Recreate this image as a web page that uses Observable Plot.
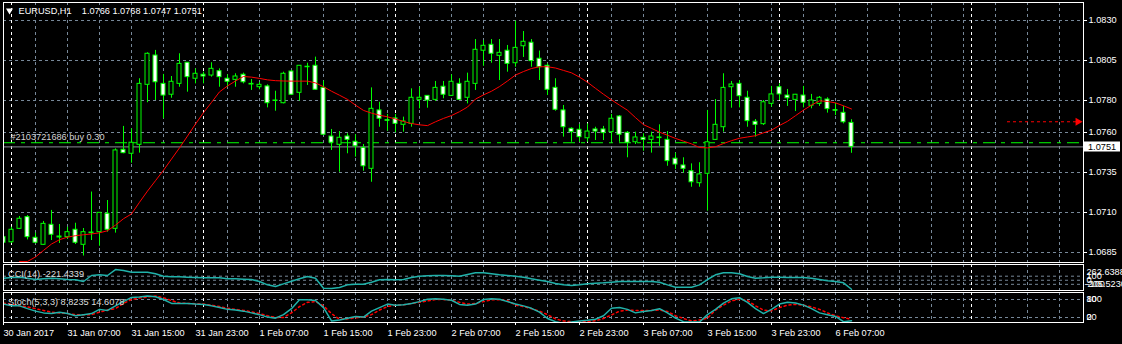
<!DOCTYPE html>
<html><head><meta charset="utf-8">
<script src="https://cdn.jsdelivr.net/npm/d3@7"></script>
<script src="https://cdn.jsdelivr.net/npm/@observablehq/plot@0.6"></script>
<style>
html,body{margin:0;padding:0;background:#000;}
#chart{position:relative;width:1122px;height:344px;background:#000;overflow:hidden;}
#chart svg{position:absolute;left:0;}
</style></head><body><div id="chart"></div>
<script>
// ---------- data ----------
const symbol = "EURUSD,H1";
const lastBar = [1.0766, 1.0768, 1.0747, 1.0751];
const opens = [1.06946,1.06914,1.06998,1.07071,1.06942,1.06898,1.07023,1.06950,1.06946,1.06992,1.06898,1.06971,1.06977,1.07092,1.06998,1.07492,1.07467,1.07523,1.07898,1.08081,1.07904,1.07836,1.07904,1.08036,1.07936,1.07961,1.07956,1.07983,1.07936,1.07929,1.07961,1.07904,1.07883,1.07888,1.07800,1.07783,1.07981,1.07848,1.08011,1.08017,1.07879,1.07575,1.07523,1.07575,1.07542,1.07504,1.07373,1.07738,1.07677,1.07688,1.07648,1.07654,1.07804,1.07829,1.07804,1.07886,1.07829,1.07904,1.07817,1.07904,1.08111,1.08148,1.08079,1.08111,1.08033,1.08139,1.08161,1.08061,1.08017,1.07879,1.07738,1.07623,1.07617,1.07564,1.07619,1.07619,1.07602,1.07700,1.07598,1.07539,1.07567,1.07554,1.07569,1.07554,1.07436,1.07394,1.07358,1.07283,1.07342,1.07554,1.07633,1.07883,1.07904,1.07817,1.07667,1.07652,1.07779,1.07883,1.07831,1.07804,1.07831,1.07767,1.07779,1.07806,1.07740,1.07723,1.07660];
const highs = [1.06981,1.07008,1.07075,1.07081,1.06971,1.07044,1.07113,1.07025,1.07008,1.07033,1.07000,1.07228,1.07100,1.07175,1.07498,1.07638,1.07623,1.07936,1.08098,1.08113,1.07963,1.07950,1.08092,1.08036,1.07998,1.07977,1.08036,1.07998,1.07961,1.07967,1.07971,1.07931,1.07913,1.07898,1.07858,1.07977,1.07988,1.08017,1.08033,1.08071,1.07921,1.07619,1.07606,1.07592,1.07586,1.07525,1.07879,1.07789,1.07713,1.07713,1.07696,1.07873,1.07883,1.07831,1.07919,1.07919,1.07961,1.07936,1.07971,1.08181,1.08175,1.08181,1.08181,1.08144,1.08296,1.08231,1.08181,1.08109,1.08029,1.07936,1.07769,1.07629,1.07650,1.07654,1.07633,1.07638,1.07713,1.07706,1.07606,1.07602,1.07592,1.07602,1.07648,1.07606,1.07471,1.07442,1.07404,1.07411,1.07738,1.07806,1.07967,1.07919,1.07925,1.07858,1.07681,1.07800,1.07888,1.07904,1.07869,1.07838,1.07888,1.07838,1.07825,1.07817,1.07783,1.07764,1.07680];
const lows = [1.06904,1.06906,1.06994,1.06929,1.06904,1.06894,1.06925,1.06906,1.06933,1.06900,1.06828,1.06925,1.06889,1.06977,1.06971,1.07467,1.07408,1.07471,1.07786,1.07800,1.07686,1.07814,1.07883,1.07852,1.07904,1.07904,1.07946,1.07883,1.07883,1.07883,1.07904,1.07863,1.07867,1.07754,1.07733,1.07779,1.07831,1.07796,1.07894,1.07863,1.07581,1.07488,1.07352,1.07467,1.07446,1.07358,1.07289,1.07633,1.07608,1.07598,1.07602,1.07633,1.07748,1.07752,1.07794,1.07811,1.07825,1.07800,1.07779,1.07863,1.08014,1.08033,1.07925,1.07977,1.08008,1.08069,1.08008,1.07925,1.07831,1.07733,1.07571,1.07539,1.07539,1.07539,1.07550,1.07550,1.07539,1.07539,1.07442,1.07525,1.07483,1.07471,1.07513,1.07389,1.07369,1.07346,1.07258,1.07258,1.07108,1.07550,1.07602,1.07752,1.07754,1.07633,1.07571,1.07644,1.07758,1.07800,1.07763,1.07731,1.07754,1.07748,1.07763,1.07721,1.07706,1.07654,1.07470];
const closes = [1.06911,1.06992,1.07061,1.06946,1.06911,1.07029,1.06961,1.06944,1.06977,1.06911,1.06977,1.06975,1.07098,1.06992,1.07488,1.07471,1.07536,1.07904,1.08092,1.07914,1.07831,1.07917,1.08029,1.07946,1.07967,1.07950,1.07998,1.07946,1.07917,1.07950,1.07914,1.07900,1.07898,1.07783,1.07797,1.07967,1.07836,1.08017,1.08008,1.07867,1.07586,1.07536,1.07567,1.07554,1.07514,1.07389,1.07748,1.07686,1.07673,1.07654,1.07669,1.07817,1.07817,1.07800,1.07879,1.07836,1.07917,1.07804,1.07917,1.08117,1.08142,1.08092,1.08098,1.08029,1.08129,1.08167,1.08046,1.08008,1.07867,1.07742,1.07633,1.07602,1.07571,1.07606,1.07606,1.07596,1.07686,1.07586,1.07536,1.07569,1.07554,1.07575,1.07565,1.07421,1.07400,1.07373,1.07289,1.07338,1.07539,1.07648,1.07879,1.07900,1.07827,1.07671,1.07648,1.07789,1.07838,1.07838,1.07814,1.07836,1.07786,1.07800,1.07817,1.07746,1.07736,1.07664,1.07510];
const movingAverage = [null,null,1.06794,1.06794,1.06822,1.06863,1.06903,1.06930,1.06946,1.06955,1.06961,1.06966,1.06973,1.06986,1.07021,1.07061,1.07091,1.07164,1.07234,1.07299,1.07364,1.07434,1.07504,1.07578,1.07653,1.07724,1.07788,1.07854,1.07891,1.07922,1.07950,1.07946,1.07938,1.07929,1.07924,1.07922,1.07921,1.07921,1.07921,1.07910,1.07886,1.07858,1.07833,1.07807,1.07771,1.07738,1.07721,1.07708,1.07698,1.07684,1.07669,1.07656,1.07648,1.07643,1.07667,1.07688,1.07706,1.07730,1.07759,1.07809,1.07835,1.07858,1.07887,1.07922,1.07959,1.07981,1.08000,1.08011,1.08011,1.08003,1.07988,1.07973,1.07946,1.07914,1.07876,1.07839,1.07804,1.07771,1.07739,1.07693,1.07649,1.07626,1.07602,1.07583,1.07563,1.07546,1.07529,1.07506,1.07504,1.07511,1.07531,1.07549,1.07564,1.07572,1.07580,1.07598,1.07615,1.07644,1.07670,1.07705,1.07740,1.07771,1.07798,1.07794,1.07785,1.07767,1.07747];
const cciValues = [51.5,67.9,76.2,51.5,18.5,35,51.5,35,18.5,10.3,-30.9,117.3,133.8,117.3,262.6,240,199.6,199.6,199.6,158.5,100.9,84.4,84.4,76.2,67.9,59.7,59.7,59.7,35,35,26.8,18.5,-30.9,-113.2,-154.4,-88.5,-22.6,35,92.6,51.5,-195.5,-205.5,-179,-113.2,-96.7,-96.7,-47.3,10.3,18.5,10.3,18.5,67.9,100.9,109.1,117.3,117.3,109.1,100.9,142.1,183.2,183.2,158.5,133.8,117.3,100.9,76.2,35,2.1,-30.9,-80.3,-113.2,-129.7,-113.2,-88.5,-72,-63.8,-47.3,-30.9,-30.9,-30.9,-30.9,-30.9,-47.3,-113.2,-170.8,-170.8,-170.8,-113.2,18.5,133.8,183.2,183.2,158.5,92.6,51.5,59.7,76.2,76.2,67.9,67.9,67.9,51.5,18.5,-14.4,-30.9,-63.8,-221.4];
const stochMain = [64.7,58.8,58.8,49.5,41.2,35.4,33,37.7,33,26,29.5,33,47.1,43.6,58.8,72.9,87,88.2,91.7,89.4,80,67,67,67,64.7,63.5,58.8,53,47.1,44.8,41.2,35.4,29.5,21.3,17.8,29.5,49.5,78.8,78.8,76.5,53,8.4,11.9,17.8,23.6,21.3,41.2,53,64.7,61.2,62.4,67,72.9,81.1,82.3,81.1,77.6,63.5,61.2,64.7,80,82.3,81.1,72.9,64.7,58.8,50.6,37.7,16.6,6.1,0.2,4.9,8.4,10.7,14.2,26,50.6,53,47.1,35.4,40.1,43.6,49.5,35.4,17.8,6.1,4.9,4.9,29.5,47.1,68.2,82.3,85.8,70.6,49.5,33,47.1,64.7,70.6,68.2,61.2,49.5,35.4,29.5,23.6,6.1,8.8];
const stochSignal = [68.2,63.5,58.8,55.3,49.5,43.6,37.7,35.4,33,29.5,29.5,29.5,37.7,44.8,49.5,67,80,84.7,88.2,91.7,85.8,76.5,68.2,67,65.9,64.7,61.2,56.5,50.6,47.1,43.6,38.9,33,26,20.1,20.1,35.4,56.5,70.6,72.9,58.8,33,14.2,15.4,19,21.3,29.5,44.8,56.5,61.2,62.4,67,70.6,75.3,80,80,77.6,70.6,64.7,67,72.9,78.8,78.8,76.5,61.2,56.5,49.5,41.2,29.5,15.4,8.4,6.1,6.1,6.1,9.6,16.6,28.3,41.2,44.8,43.6,43.6,43.6,44.8,40.1,26,16.6,8.4,11.9,17.8,44.8,61.2,75.3,81.1,76.5,58.8,44.8,42.4,53,61.2,63.5,61.2,55.3,47.1,35.4,26,19,14.6];

const priceTicks = [1.0830, 1.0805, 1.0780, 1.0760, 1.0735, 1.0710, 1.0685];
const priceRange = [1.067875, 1.084125];
const visibleBars = 135;
const timeTickBars = [0,8,16,24,32,40,48,56,64,72,80,88,96,104];
const timeTickLabels = ["30 Jan 2017","31 Jan 07:00","31 Jan 15:00","31 Jan 23:00","1 Feb 07:00","1 Feb 15:00","1 Feb 23:00","2 Feb 07:00","2 Feb 15:00","2 Feb 23:00","3 Feb 07:00","3 Feb 15:00","3 Feb 23:00","6 Feb 07:00"];
const daySeparatorBars = [1,25,49,73,97,121];
const orderLevel = [{price: 1.07536, label: "#2103721686 buy 0.30"}];
const bidPrice = 1.0751;
const arrowLevel = [{price: 1.07667, from: 125.5, to: 134.3}];
const cciLabel = "CCI(14) -221.4339";
const cciMax = 262.6388, cciMin = -205.523;
const cciLevels = [100, 0, -100];
const stochLabel = "Stoch(5,3,3) 8.8235 14.6078";
const stochLevels = [80, 20];

// ---------- styling ----------
const FONT = "'Liberation Sans', Arial, Helvetica, sans-serif";
const FS = "9.2px";
const LIME = "#00ff00";
const GRID = "#778899";
const TEAL = "#20b2aa";
const xDomain = [0, visibleBars];
const gridBars = d3.range(0, visibleBars, 4);
const style = {background: "transparent", color: "white", fontFamily: FONT, fontSize: FS};
const root = document.getElementById("chart");

const bars = opens.map((o, i) => ({i, o, h: highs[i], l: lows[i], c: closes[i]}));
const maData = movingAverage.map((v, i) => ({i, v})).filter(d => d.v != null);
const verticalGrid = () => [
  Plot.gridX(gridBars, {stroke: GRID, strokeOpacity: 1, strokeDasharray: "3,3"}),
  Plot.gridX(daySeparatorBars, {stroke: "#ffffff", strokeOpacity: 1, strokeDasharray: "3,3"})
];

// ---------- main pane ----------
const main = Plot.plot({
  width: 1122, height: 263, marginLeft: 3, marginRight: 39, marginTop: 2, marginBottom: 1,
  style,
  x: {domain: xDomain, axis: null},
  y: {domain: priceRange, axis: null},
  marks: [
    Plot.gridY(priceTicks, {stroke: GRID, strokeOpacity: 1, strokeDasharray: "3,3"}),
    ...verticalGrid(),
    Plot.ruleY([bidPrice], {stroke: "#8c8f99"}),
    Plot.ruleY(orderLevel, {y: "price", stroke: LIME, strokeDasharray: "12,6,4,6"}),
    Plot.ruleX(bars, {x: "i", y1: "l", y2: "h", stroke: LIME, clip: true}),
    Plot.rect(bars.filter(d => d.c < d.o), {x1: d => d.i - 0.25, x2: d => d.i + 0.25, y1: "o", y2: "c", fill: "white", stroke: LIME, clip: true}),
    Plot.rect(bars.filter(d => d.c >= d.o), {x1: d => d.i - 0.25, x2: d => d.i + 0.25, y1: "o", y2: "c", fill: "black", stroke: LIME, clip: true}),
    Plot.line(maData, {x: "i", y: "v", stroke: "#ff0000", strokeWidth: 1, clip: true}),
    Plot.ruleY(arrowLevel, {y: "price", x1: "from", x2: "to", stroke: "#ff0000", strokeDasharray: "3,3"}),
    Plot.dot(arrowLevel, {x: "to", y: "price", symbol: "triangle", rotate: 90, r: 3, fill: "#ff0000", stroke: "none"}),
    Plot.text(orderLevel, {y: "price", text: "label", frameAnchor: "left", dx: 7, dy: -6, textAnchor: "start", fill: "#d4d4d4"}),
    Plot.dot([0], {frameAnchor: "top-left", dx: 6, dy: 8, symbol: "triangle", rotate: 180, r: 2.6, fill: "white", stroke: "none"}),
    Plot.text([symbol + "\u00a0\u00a0\u00a0 " + lastBar.map(v => v.toFixed(4)).join(" ")], {frameAnchor: "top-left", dx: 15, dy: 8.5, lineAnchor: "middle", textAnchor: "start", fill: "white"}),
    Plot.frame({stroke: "white"}),
    Plot.axisY(priceTicks, {anchor: "right", tickSize: 3, tickPadding: 2, tickFormat: d => d.toFixed(4), stroke: "white", fill: "white", label: null})
  ]
});
main.style.top = "0px";
root.appendChild(main);
// bid price marker box on the price axis
const yb = main.scale("y").apply(bidPrice);
const gb = d3.select(main).append("g");
gb.append("rect").attr("x", 1084).attr("y", Math.round(yb) - 4.5).attr("width", 36).attr("height", 10).attr("fill", "white");
gb.append("text").attr("x", 1088).attr("y", Math.round(yb) + 0.5).attr("dy", "0.35em").attr("fill", "black")
  .attr("text-anchor", "start").attr("font-family", FONT).attr("font-size", FS).text(bidPrice.toFixed(4));

// ---------- CCI pane ----------
const cciPlot = Plot.plot({
  width: 1122, height: 28, marginLeft: 3, marginRight: 39, marginTop: 1, marginBottom: 1,
  style,
  x: {domain: xDomain, axis: null},
  y: {domain: [cciMin, cciMax], range: [25.1, 6.1], axis: null},
  marks: [
    Plot.gridY(cciLevels, {stroke: GRID, strokeOpacity: 1, strokeDasharray: "3,3"}),
    ...verticalGrid(),
    Plot.line(cciValues.map((v, i) => ({i, v})), {x: "i", y: "v", stroke: TEAL, clip: true}),
    Plot.text([cciLabel], {frameAnchor: "top-left", dx: 4.5, dy: 9.3, lineAnchor: "middle", textAnchor: "start", fill: "#dddddd"}),
    Plot.frame({stroke: "white"}),
    Plot.text(cciLevels, {y: d => d, text: d => String(d), frameAnchor: "right", dx: 3, textAnchor: "start", fill: "white"}),
    Plot.text([cciMax], {y: d => d, text: d => d.toFixed(4), frameAnchor: "right", dx: 3, dy: 2.4, textAnchor: "start", fill: "white"}),
    Plot.text([cciMin], {y: d => d, text: d => d.toFixed(4), frameAnchor: "right", dx: 1, dy: -4.6, textAnchor: "start", fill: "white"})
  ]
});
cciPlot.style.top = "263px";
root.appendChild(cciPlot);

// ---------- Stochastic pane ----------
const labelByBar = new Map(timeTickBars.map((b, k) => [b, timeTickLabels[k]]));
const stochPlot = Plot.plot({
  width: 1122, height: 53, marginLeft: 3, marginRight: 39, marginTop: 1, marginBottom: 22,
  style,
  x: {domain: xDomain, axis: null},
  y: {domain: [0, 100], range: [32, 2], axis: null},
  marks: [
    Plot.gridY(stochLevels, {stroke: GRID, strokeOpacity: 1, strokeDasharray: "3,3"}),
    ...verticalGrid(),
    Plot.line(stochSignal.map((v, i) => ({i, v})), {x: "i", y: "v", stroke: "#ff0000", strokeDasharray: "2,3", clip: true}),
    Plot.line(stochMain.map((v, i) => ({i, v})), {x: "i", y: "v", stroke: TEAL, clip: true}),
    Plot.text([stochLabel], {frameAnchor: "top-left", dx: 4.5, dy: 9.7, lineAnchor: "middle", textAnchor: "start", fill: "#dddddd"}),
    Plot.frame({stroke: "white"}),
    Plot.text(stochLevels, {y: d => d, text: d => String(d), frameAnchor: "right", dx: 3, textAnchor: "start", fill: "white"}),
    Plot.text(["100"], {frameAnchor: "top-right", dx: 3, dy: 7, lineAnchor: "middle", textAnchor: "start", fill: "white"}),
    Plot.text(["0"], {frameAnchor: "bottom-right", dx: 3, dy: -5.5, lineAnchor: "middle", textAnchor: "start", fill: "white"}),
    Plot.axisX(timeTickBars, {anchor: "bottom", tickSize: 3, tickPadding: 4, textAnchor: "start", tickFormat: d => labelByBar.get(d), stroke: "white", fill: "white", label: null})
  ]
});
stochPlot.style.top = "291px";
root.appendChild(stochPlot);
</script>
</body></html>
